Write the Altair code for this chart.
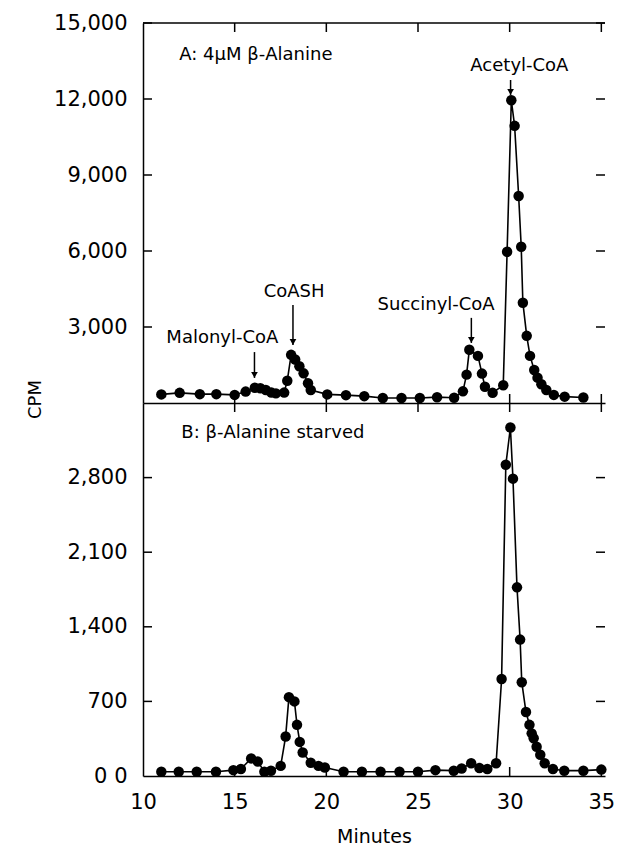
import altair as alt
import pandas as pd

# ---- data ----
minutes_a = [11.0, 12.0, 13.1, 14.0, 15.0, 15.6, 16.1, 16.4, 16.7, 17.0, 17.25, 17.7,
             17.87, 18.08, 18.3, 18.53, 18.76, 19.0, 19.15, 20.05, 21.07, 22.07, 23.08,
             24.1, 25.1, 26.04, 26.97, 27.45, 27.65, 27.8, 28.27, 28.49, 28.65, 29.07,
             29.65, 29.86, 30.09, 30.27, 30.49, 30.63, 30.72, 30.93, 31.11, 31.34, 31.52,
             31.73, 32.0, 32.41, 33.0, 34.02]
cpm_a = [340, 400, 350, 350, 320, 450, 600, 580, 510, 410, 380, 410,
         880, 1900, 1720, 1450, 1170, 780, 510, 340, 310, 270, 200,
         200, 200, 230, 210, 460, 1120, 2100, 1860, 1160, 640, 400,
         700, 5970, 11950, 10940, 8170, 6170, 3960, 2650, 1860, 1300, 1000,
         740, 510, 320, 250, 220]

minutes_b = [11.0, 11.95, 12.93, 13.98, 14.93, 15.34, 15.9, 16.26, 16.62, 16.98, 17.51,
             17.78, 17.96, 18.26, 18.4, 18.55, 18.71, 19.15, 19.57, 19.92, 20.94, 21.94,
             22.96, 23.99, 25.0, 25.95, 26.95, 27.38, 27.9, 28.35, 28.78, 29.26, 29.56,
             29.79, 30.04, 30.18, 30.4, 30.57, 30.66, 30.89, 31.08, 31.2, 31.31, 31.47,
             31.67, 31.91, 32.36, 32.98, 34.02, 35.0]
cpm_b = [40, 40, 40, 40, 55, 65, 165, 135, 40, 50, 95,
         370, 740, 700, 480, 320, 220, 125, 95, 80, 40, 40,
         40, 40, 40, 55, 50, 70, 120, 75, 65, 120, 910,
         2920, 3270, 2790, 1770, 1280, 880, 600, 480, 400, 355, 275,
         200, 120, 65, 50, 50, 60]

x_ticks = [10, 15, 20, 25, 30, 35]
inner_x_ticks = [15, 20, 25, 30, 35]
y_ticks_a = [3000, 6000, 9000, 12000, 15000]
y_ticks_b = [0, 700, 1400, 2100, 2800]

peak_names = ["Malonyl-CoA", "CoASH", "Succinyl-CoA", "Acetyl-CoA"]
peak_label_x = [14.33, 18.24, 25.99, 30.53]
peak_label_y = [2570, 4380, 3870, 13300]
arrow_x = [16.08, 18.18, 27.91, 30.05]
arrow_from = [2010, 3870, 3360, 12750]
arrow_to = [990, 2290, 2370, 12160]

panel_a_text = ["A: 4µM β-Alanine"]
panel_a_x = [11.98]
panel_a_y = [13740]
panel_b_text = ["B: β-Alanine starved"]
panel_b_x = [12.09]
panel_b_y = [3220]

# ---- layout constants ----
W = 462
HA = 380
HB = 373
X_DOMAIN = [10, 35.2]
FONT = "DejaVu Sans"
TICK = 9

df_a = pd.DataFrame({"minute": minutes_a, "cpm": cpm_a})
df_b = pd.DataFrame({"minute": minutes_b, "cpm": cpm_b})
df_peaks = pd.DataFrame({"name": peak_names, "lx": peak_label_x, "ly": peak_label_y,
                         "ax": arrow_x, "a1": arrow_from, "a2": arrow_to})
df_pa = pd.DataFrame({"t": panel_a_text, "x": panel_a_x, "y": panel_a_y})
df_pb = pd.DataFrame({"t": panel_b_text, "x": panel_b_x, "y": panel_b_y})
df_xt = pd.DataFrame({"v": inner_x_ticks})
df_yta = pd.DataFrame({"v": y_ticks_a})
df_ytb = pd.DataFrame({"v": [v for v in y_ticks_b if v > 0]})

xs = alt.Scale(domain=X_DOMAIN, nice=False, zero=False)
ysa = alt.Scale(domain=[0, 15000], nice=False)
ysb = alt.Scale(domain=[0, 3500], nice=False)

COMMA = "format(datum.value, ',')"


def series_layers(df, xe, ye):
    line = alt.Chart(df).mark_line(color="black", strokeWidth=1.6).encode(
        x=xe("minute:Q"), y=ye("cpm:Q"))
    pts = alt.Chart(df).mark_point(filled=True, color="black", size=110, opacity=1).encode(
        x=xe("minute:Q"), y=ye("cpm:Q"))
    return [line, pts]


def tick_layers(df_y, xe, ye, h):
    left = alt.Chart(df_y).mark_rule(color="black", strokeWidth=1.5).encode(
        y=ye("v:Q"), x=alt.value(0), x2=alt.value(TICK))
    right = alt.Chart(df_y).mark_rule(color="black", strokeWidth=1.5).encode(
        y=ye("v:Q"), x=alt.value(W - TICK), x2=alt.value(W))
    top = alt.Chart(df_xt).mark_rule(color="black", strokeWidth=1.5).encode(
        x=xe("v:Q"), y=alt.value(0), y2=alt.value(TICK))
    bot = alt.Chart(df_xt).mark_rule(color="black", strokeWidth=1.5).encode(
        x=xe("v:Q"), y=alt.value(h - TICK), y2=alt.value(h))
    return [left, right, top, bot]


# ---- top panel ----
xaxis_a = alt.Axis(labels=False, ticks=False, tickSize=0, domain=True, title=None, grid=False)
yaxis_a = alt.Axis(values=y_ticks_a, labelExpr=COMMA, ticks=False, tickSize=0,
                   labelPadding=16, labelFontSize=21, labelFont=FONT, labelColor="black",
                   labelFlush=False,
                   domain=True, grid=False, title="CPM", titleX=-108, titleY=376,
                   titleAngle=270, titleAlign="center", titleBaseline="middle",
                   titleFontSize=18, titleFontWeight="normal", titleFont=FONT,
                   titleColor="black")


def xa(f):
    return alt.X(f, scale=xs, axis=xaxis_a)


def ya(f):
    return alt.Y(f, scale=ysa, axis=yaxis_a)


top_frame = alt.Chart(df_pa).mark_rule(color="black", strokeWidth=1.5).encode(
    x=alt.value(0), x2=alt.value(W), y=alt.value(0))

labels_a = alt.Chart(df_peaks).mark_text(font=FONT, fontSize=18, color="black",
                                         align="center", baseline="middle").encode(
    x=xa("lx:Q"), y=ya("ly:Q"), text="name:N")
arrows = alt.Chart(df_peaks).mark_rule(color="black", strokeWidth=1.5).encode(
    x=xa("ax:Q"), y=ya("a1:Q"), y2="a2:Q")
heads = alt.Chart(df_peaks).mark_point(shape="triangle-down", filled=True, color="black",
                                       size=45, opacity=1, yOffset=-3).encode(
    x=xa("ax:Q"), y=ya("a2:Q"))
title_a = alt.Chart(df_pa).mark_text(font=FONT, fontSize=18, color="black",
                                     align="left", baseline="middle").encode(
    x=xa("x:Q"), y=ya("y:Q"), text="t:N")

top = alt.layer(
    *series_layers(df_a, xa, ya),
    top_frame, labels_a, arrows, heads, title_a,
    *tick_layers(df_yta, xa, ya, HA),
).properties(width=W, height=HA)

# ---- bottom panel ----
xaxis_b = alt.Axis(values=x_ticks, ticks=False, tickSize=0, labelPadding=15,
                   labelFontSize=21, labelFont=FONT, labelColor="black", labelFlush=False,
                   domain=True, grid=False, title="Minutes", titleFontSize=19,
                   titleFontWeight="normal", titleFont=FONT, titleColor="black",
                   titlePadding=15)
yaxis_b = alt.Axis(values=y_ticks_b, ticks=False, tickSize=0, labelPadding=16,
                   labelFontSize=21, labelFont=FONT, labelColor="black", labelFlush=False,
                   domain=True, grid=False, title=None,
                   labelExpr="datum.value == 0 ? '0 0' : format(datum.value, ',')")


def xb(f):
    return alt.X(f, scale=xs, axis=xaxis_b)


def yb(f):
    return alt.Y(f, scale=ysb, axis=yaxis_b)


title_b = alt.Chart(df_pb).mark_text(font=FONT, fontSize=18, color="black",
                                     align="left", baseline="middle").encode(
    x=xb("x:Q"), y=yb("y:Q"), text="t:N")

bottom = alt.layer(
    *series_layers(df_b, xb, yb),
    title_b,
    *tick_layers(df_ytb, xb, yb, HB),
).properties(width=W, height=HB)

chart = alt.vconcat(top, bottom, spacing=0, bounds="flush").properties(
    padding={"left": 18, "top": 4, "right": 0, "bottom": 0},
    background="white",
).configure(
    font=FONT,
    view=alt.ViewConfig(stroke=None),
    axis=alt.AxisConfig(labelFont=FONT, labelFontSize=21, labelColor="black",
                        domainColor="black", domainWidth=1.5, grid=False),
)

chart.save("out.html", embed_options={"renderer": "svg", "actions": False})
